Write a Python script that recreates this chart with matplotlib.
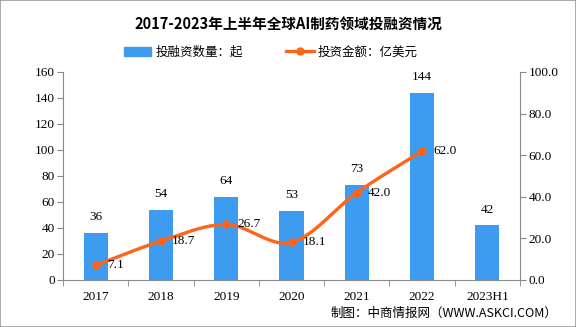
import numpy as np
import matplotlib
matplotlib.use("Agg")
import matplotlib.pyplot as plt
from matplotlib.patches import Rectangle
from matplotlib.lines import Line2D

plt.rcParams['font.family'] = ['Noto Sans CJK SC', 'DejaVu Sans']

categories = ["2017", "2018", "2019", "2020", "2021", "2022", "2023H1"]
deal_counts = [36, 54, 64, 53, 73, 144, 42]
amounts = [7.1, 18.7, 26.7, 18.1, 42.0, 62.0]
left_ticks = [0, 20, 40, 60, 80, 100, 120, 140, 160]
right_ticks = [0.0, 20.0, 40.0, 60.0, 80.0, 100.0]

bar_color = "#3D9CF0"
line_color = "#FF6418"
num_font = "Liberation Serif"

fig = plt.figure(figsize=(5.76, 3.27), dpi=100)
fig.patches.append(Rectangle((0, 0), 1, 1, transform=fig.transFigure,
                             fill=False, edgecolor="#999999", lw=1.2))
ax = fig.add_axes([63/576, 1-280/327, (520-63)/576, (280-72)/327])
ax2 = ax.twinx()

x = np.arange(len(categories))
ax.bar(x, deal_counts, width=0.37, color=bar_color, zorder=2)
for xi, v in zip(x, deal_counts):
    ax.text(xi, v + 7.5, str(v), ha="center", va="bottom", fontsize=9.5,
            family=num_font)

ax.set_xlim(-0.5, len(categories) - 0.5)
ax.set_ylim(0, 160)
ax.set_yticks(left_ticks)
ax.set_yticklabels([str(t) for t in left_ticks], family=num_font, fontsize=9.5)
ax.set_xticks(x)
ax.set_xticklabels(categories, family=num_font, fontsize=9.5)
ax.set_xticks(np.arange(len(categories) + 1) - 0.5, minor=True)
ax.tick_params(axis="x", which="major", length=0, pad=8)
ax.tick_params(axis="x", which="minor", length=4, color="#888888")
ax.tick_params(axis="y", length=4, color="#888888", pad=2)

# smooth line (Catmull-Rom through the data points)
xl = x[:len(amounts)].astype(float)
yl = np.array(amounts)
px = np.concatenate([[2*xl[0]-xl[1]], xl, [2*xl[-1]-xl[-2]]])
py = np.concatenate([[2*yl[0]-yl[1]], yl, [2*yl[-1]-yl[-2]]])
sx, sy = [], []
for i in range(1, len(px) - 2):
    t = np.linspace(0, 1, 30)
    for arr, out in ((px, sx), (py, sy)):
        p0, p1, p2, p3 = arr[i-1], arr[i], arr[i+1], arr[i+2]
        out.extend(0.5*((2*p1) + (-p0+p2)*t + (2*p0-5*p1+4*p2-p3)*t**2
                        + (-p0+3*p1-3*p2+p3)*t**3))
ax2.plot(sx, sy, color=line_color, lw=2.4, zorder=3)
ax2.plot(xl, yl, "o", color=line_color, ms=5, zorder=4)
for xi, v in zip(xl, yl):
    ax2.text(xi + 0.17, v, f"{v:.1f}", ha="left", va="center",
             fontsize=9.5, family=num_font, zorder=5)

ax2.set_ylim(0, 100)
ax2.set_yticks(right_ticks)
ax2.set_yticklabels([f"{t:.1f}" for t in right_ticks], family=num_font,
                    fontsize=9.5)
ax2.tick_params(axis="y", length=4, color="#888888", pad=2)

for a in (ax, ax2):
    a.spines["top"].set_visible(False)
    for s in ("left", "right", "bottom"):
        a.spines[s].set_color("#888888")
ax.spines["right"].set_visible(False)
ax2.spines["left"].set_visible(False)
ax2.spines["bottom"].set_visible(False)

fig.text(0.5, 1-24/327, "2017-2023年上半年全球AI制药领域投融资情况",
         ha="center", va="center", fontsize=10.5, fontweight="bold")

handles = [Rectangle((0, 0), 1, 1, color=bar_color),
           Line2D([0], [0], color=line_color, lw=2.4, marker="o", ms=5)]
fig.legend(handles, ["投融资数量：起", "投资金额：亿美元"],
           loc="center", bbox_to_anchor=(0.47, 1-52/327), ncol=2,
           frameon=False, fontsize=9, handlelength=2.2, columnspacing=3.5,
           handletextpad=0.3)

fig.text(557/576, 1-313/327, "制图：中商情报网（WWW.ASKCI.COM）",
         ha="right", va="center", fontsize=9)

fig.savefig("out.png", dpi=100)
